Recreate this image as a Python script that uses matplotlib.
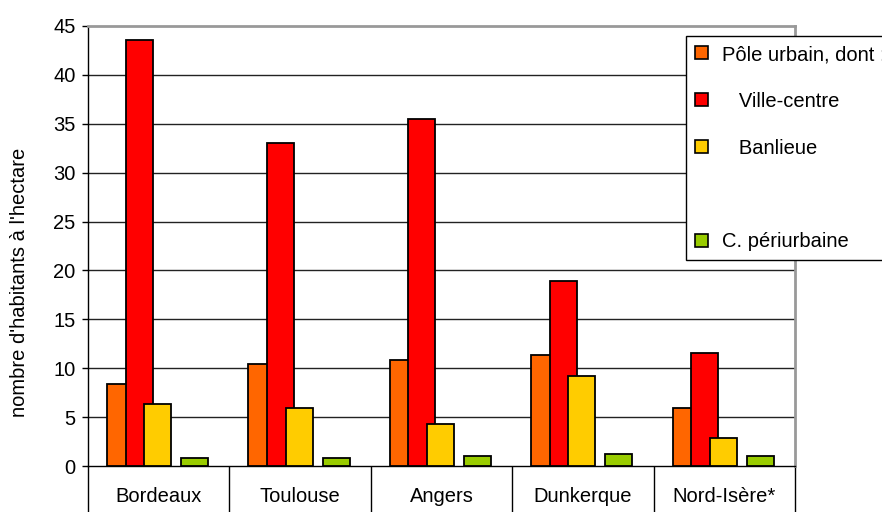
import matplotlib
matplotlib.use("Agg")
import matplotlib.pyplot as plt
from matplotlib.patches import Patch
import numpy as np

plt.rcParams['font.family'] = ['Liberation Sans', 'DejaVu Sans']

# Data
cities = ["Bordeaux", "Toulouse", "Angers", "Dunkerque", "Nord-Isère*"]
pole_urbain = [8.4, 10.4, 10.8, 11.4, 5.9]
ville_centre = [43.6, 33.0, 35.5, 18.9, 11.6]
banlieue = [6.3, 5.9, 4.3, 9.2, 2.9]
periurbaine = [0.8, 0.8, 1.0, 1.2, 1.0]

series_labels = ["Pôle urbain, dont :", "   Ville-centre", "   Banlieue", " ", "C. périurbaine"]
series_colors = ["#FF6600", "#FF0000", "#FFCC00", "none", "#99CC00"]
series_values = [pole_urbain, ville_centre, banlieue, None, periurbaine]

FS = 14.5

fig = plt.figure(figsize=(8.82, 5.12), dpi=100)
ax = fig.add_axes([88/882, 46/512, (795-88)/882, (466-26)/512])

x = np.arange(len(cities))
bar_w = 0.191
step = 0.131
start = -0.5 + 0.135
for k, (vals, col) in enumerate(zip(series_values, series_colors)):
    if vals is None:
        continue
    ax.bar(x + start + k*step, vals, width=bar_w, align='edge',
           color=col, edgecolor='black', linewidth=1.3, zorder=3)

ax.set_xlim(-0.5, len(cities) - 0.5)
ax.set_ylim(0, 45)
ax.set_yticks(np.arange(0, 46, 5))
ax.tick_params(axis='y', direction='out', length=4, width=1, labelsize=FS, pad=5)
for yv in range(5, 45, 5):
    ax.axhline(yv, color='#222222', linewidth=1, zorder=1)

# category axis with separators between groups
ax.set_xticks(x)
ax.set_xticklabels(cities, fontsize=FS)
ax.tick_params(axis='x', which='major', length=0, pad=15)
ax.set_xticks(np.arange(-0.5, len(cities)), minor=True)
ax.tick_params(axis='x', which='minor', direction='out', length=34, width=1, color='black')

ax.spines['left'].set_color('black')
ax.spines['bottom'].set_color('black')
ax.spines['left'].set_linewidth(1)
ax.spines['bottom'].set_linewidth(1)
ax.spines['top'].set_color('#999999')
ax.spines['right'].set_color('#999999')
ax.spines['top'].set_linewidth(2)
ax.spines['right'].set_linewidth(2)

fig.text(20/882, 1 - 282/512, "nombre d'habitants à l'hectare", rotation=90,
         ha='center', va='center', fontsize=FS)

handles = []
for lab, col in zip(series_labels, series_colors):
    if col == "none":
        handles.append(Patch(facecolor='none', edgecolor='none', label=lab))
    else:
        handles.append(Patch(facecolor=col, edgecolor='black', linewidth=1.2, label=lab))
leg = fig.legend(handles=handles, loc='upper left', bbox_to_anchor=(686/882, 1 - 36/512),
                 bbox_transform=fig.transFigure, frameon=True, fancybox=False,
                 edgecolor='black', fontsize=FS, handlelength=0.62, handleheight=0.62,
                 handletextpad=0.7, labelspacing=1.38, borderpad=0.45, borderaxespad=0,
                 framealpha=1)
leg.get_frame().set_linewidth(1)

fig.savefig("out.png", dpi=100)
